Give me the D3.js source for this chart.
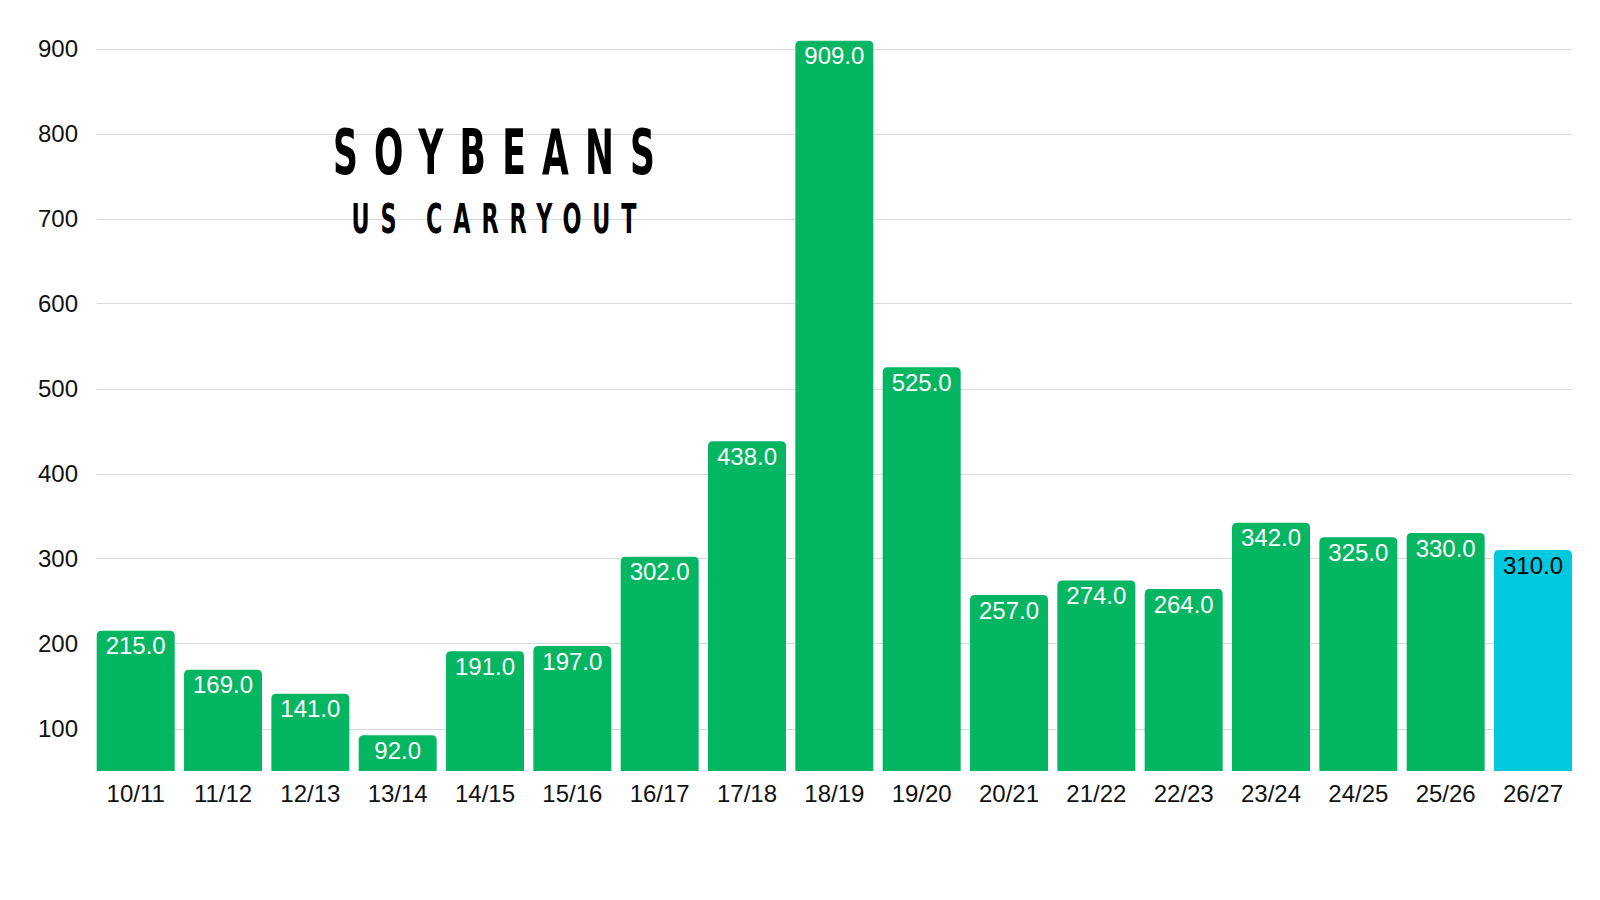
<!DOCTYPE html>
<html><head><meta charset="utf-8">
<script src="https://cdn.jsdelivr.net/npm/d3@7"></script>
<style>html,body{margin:0;padding:0;background:#fff;}svg{display:block;}</style>
</head><body><svg id="c" width="1600" height="900"></svg>
<script>
const categories = ["10/11","11/12","12/13","13/14","14/15","15/16","16/17","17/18","18/19","19/20","20/21","21/22","22/23","23/24","24/25","25/26","26/27"];
const values = [215,169,141,92,191,197,302,438,909,525,257,274,264,342,325,330,310];
const projected = [false,false,false,false,false,false,false,false,false,false,false,false,false,false,false,false,true];
const yTicks = [100,200,300,400,500,600,700,800,900];
const title = "SOYBEANS";
const subtitle = "US CARRYOUT";

const svg = d3.select("#c");
const x = d3.scaleBand().domain(categories).range([96.7,1572]).paddingInner(0.107).paddingOuter(0);
const y = d3.scaleLinear().domain([50,900]).range([771,48.5]);

// gridlines
svg.append("g").selectAll("line").data(yTicks).join("line")
  .attr("x1",96.7).attr("x2",1572)
  .attr("y1",d=>Math.round(y(d))+0.5).attr("y2",d=>Math.round(y(d))+0.5)
  .attr("stroke","#dadada").attr("stroke-width",1);

// y axis
const yAxis = d3.axisLeft(y).tickValues(yTicks).tickSize(0).tickPadding(0);
const ga = svg.append("g").attr("transform","translate(78,0)").call(yAxis);
ga.select(".domain").remove();
ga.selectAll("text").attr("font-family","'Liberation Sans', Arial, sans-serif").attr("font-size",24).attr("fill","#111").attr("dy","0.35em");

// x axis
const xAxis = d3.axisBottom(x).tickSize(0).tickPadding(0);
const gx = svg.append("g").attr("transform","translate(0,802)").call(xAxis);
gx.select(".domain").remove();
gx.selectAll("text").attr("font-family","'Liberation Sans', Arial, sans-serif").attr("font-size",24).attr("fill","#111").attr("dy","0");

// title
const tf = "'Liberation Sans Narrow', 'DejaVu Sans Condensed', sans-serif";
const sx = 0.62;
svg.append("text").text(title)
  .attr("transform",`translate(494,174) scale(${sx},1)`)
  .attr("text-anchor","middle").attr("font-family",tf).attr("font-weight","bold")
  .attr("font-size",62).attr("fill","#000")
  .attr("textLength",322/sx).attr("lengthAdjust","spacing");
svg.append("text").text(subtitle)
  .attr("transform",`translate(494,232.7) scale(${sx},1)`)
  .attr("text-anchor","middle").attr("font-family",tf).attr("font-weight","bold")
  .attr("font-size",40).attr("fill","#000")
  .attr("textLength",285/sx).attr("lengthAdjust","spacing");

// bars
const r = 5;
function barPath(d,i){
  const x0 = x(categories[i]), w = x.bandwidth(), y0 = y(d), yb = y(50);
  return `M${x0},${yb}V${y0+r}Q${x0},${y0} ${x0+r},${y0}H${x0+w-r}Q${x0+w},${y0} ${x0+w},${y0+r}V${yb}Z`;
}
svg.append("g").selectAll("path").data(values).join("path")
  .attr("d",barPath)
  .attr("fill",(d,i)=>projected[i]?"#00c8de":"#04b562");

svg.append("g").selectAll("text").data(values).join("text")
  .attr("x",(d,i)=>x(categories[i])+x.bandwidth()/2)
  .attr("y",d=>y(d)+23.5)
  .attr("text-anchor","middle")
  .attr("font-family","'Liberation Sans', Arial, sans-serif").attr("font-size",24)
  .attr("fill",(d,i)=>projected[i]?"#000":"#fff")
  .text(d=>d.toFixed(1));
</script></body></html>
